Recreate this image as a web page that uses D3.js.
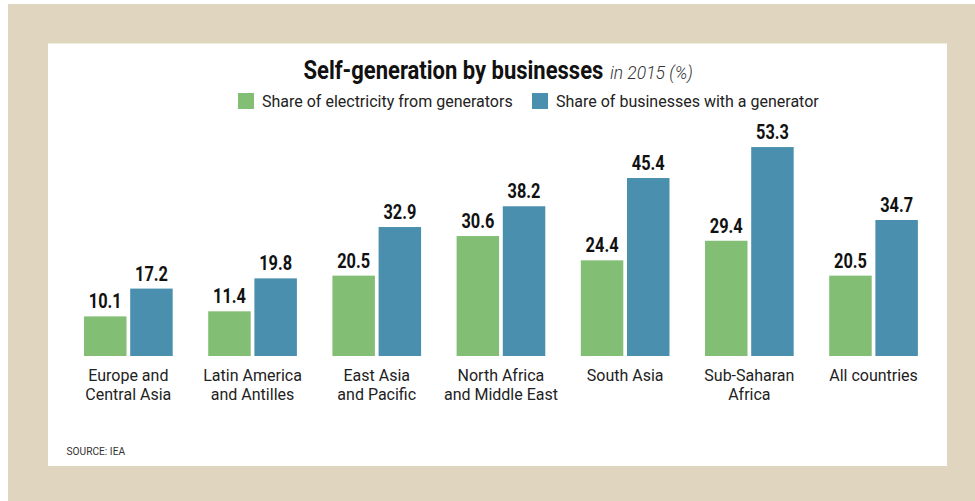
<!DOCTYPE html>
<html>
<head>
<meta charset="utf-8">
<script src="https://cdn.jsdelivr.net/npm/d3@7"></script>
<style>
  html, body { margin: 0; padding: 0; background: #fff; }
  svg { display: block; }
</style>
</head>
<body>
<svg id="chart" width="975" height="501"></svg>
<script>
// Regions (each label split over up to two lines)
const categories = [
  ["Europe and", "Central Asia"],
  ["Latin America", "and Antilles"],
  ["East Asia", "and Pacific"],
  ["North Africa", "and Middle East"],
  ["South Asia"],
  ["Sub-Saharan", "Africa"],
  ["All countries"]
];
const seriesNames = ["Share of electricity from generators", "Share of businesses with a generator"];
const electricityShare = [10.1, 11.4, 20.5, 30.6, 24.4, 29.4, 20.5];
const businessShare = [17.2, 19.8, 32.9, 38.2, 45.4, 53.3, 34.7];
const seriesColors = ["#82be74", "#4a8fad"];

const font = "Roboto, 'Liberation Sans', Arial, sans-serif";
// Horizontal squeeze that gives the bold faces their condensed look
const condenseTitle = 0.88;
const condenseValue = 0.84;

const svg = d3.select("#chart");

// Frame: tan mat with a white card on it
svg.append("rect").attr("x", 8).attr("y", 4).attr("width", 967).attr("height", 497).attr("fill", "#e0d6bf");
svg.append("rect").attr("x", 48).attr("y", 43.5).attr("width", 899).attr("height", 422.5).attr("fill", "#ffffff");

// Title
svg.append("text")
  .attr("transform", `translate(303.5,79) scale(${condenseTitle},1)`)
  .attr("font-family", font).attr("font-weight", 700).attr("font-size", 25).attr("fill", "#111")
  .text("Self-generation by businesses");
svg.append("text")
  .attr("x", 610).attr("y", 79)
  .attr("font-family", font).attr("font-style", "italic").attr("font-weight", 300)
  .attr("font-size", 17.5).attr("fill", "#333")
  .text("in 2015 (%)");

// Legend
const legendItems = [
  { x: 238, name: seriesNames[0], color: seriesColors[0] },
  { x: 532, name: seriesNames[1], color: seriesColors[1] }
];
const legend = svg.append("g").selectAll("g").data(legendItems).join("g")
  .attr("transform", d => `translate(${d.x},93)`);
legend.append("rect").attr("width", 16).attr("height", 16).attr("fill", d => d.color);
legend.append("text")
  .attr("x", 24).attr("y", 13.5)
  .attr("font-family", font).attr("font-size", 16).attr("fill", "#222")
  .text(d => d.name);

// Scales
const x0 = d3.scaleBand()
  .domain(d3.range(categories.length))
  .range([66.25, 935.65])
  .paddingInner(0.286)
  .paddingOuter(0.143);
const x1 = d3.scaleBand()
  .domain([0, 1])
  .range([0, x0.bandwidth()])
  .paddingInner(0.08);
const y = d3.scaleLinear().domain([0, 60]).range([356, 356 - 60 * 3.92]);

const rows = categories.map((c, i) => ({
  i,
  lines: c,
  values: [electricityShare[i], businessShare[i]]
}));

const groups = svg.append("g").selectAll("g").data(rows).join("g")
  .attr("transform", d => `translate(${x0(d.i)},0)`);

const bars = groups.selectAll("g.bar").data(d => d.values.map((v, s) => ({ v, s }))).join("g").attr("class", "bar");
bars.append("rect")
  .attr("x", d => x1(d.s))
  .attr("width", x1.bandwidth())
  .attr("y", d => y(d.v))
  .attr("height", d => y(0) - y(d.v))
  .attr("fill", d => seriesColors[d.s]);
bars.append("text")
  .attr("transform", d => `translate(${x1(d.s) + x1.bandwidth() / 2},${y(d.v) - 8}) scale(${condenseValue},1)`)
  .attr("text-anchor", "middle")
  .attr("font-family", font).attr("font-weight", 700).attr("font-size", 19.5).attr("fill", "#111")
  .text(d => d.v.toFixed(1));

// Category labels under each group
groups.append("text")
  .attr("text-anchor", "middle")
  .attr("font-family", font).attr("font-size", 16).attr("fill", "#222")
  .selectAll("tspan").data(d => d.lines).join("tspan")
  .attr("x", x0.bandwidth() / 2)
  .attr("y", (d, k) => 380.5 + k * 19.5)
  .text(d => d);

// Source note
svg.append("text")
  .attr("x", 66.5).attr("y", 455)
  .attr("font-family", font).attr("font-size", 10.2).attr("fill", "#333")
  .text("SOURCE: IEA");
</script>
</body>
</html>
